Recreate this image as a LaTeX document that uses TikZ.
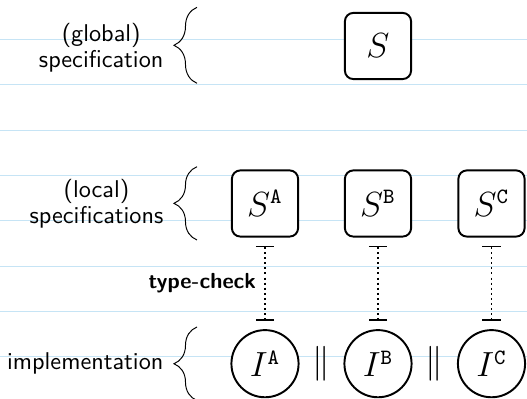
\documentclass[tikz,border=0pt]{standalone}
\usetikzlibrary{arrows.meta,decorations.pathreplacing}
\definecolor{ruleblue}{HTML}{C6E4F5}

\begin{document}
\begin{tikzpicture}[x=0.0145cm, y=0.0145cm, every node/.style={align=center},
  sidetext/.style={anchor=east, font=\sffamily\fontsize{10}{9.1}\selectfont},
  specbox/.style={draw, thick, rectangle, rounded corners=3.5pt, fill=white, minimum width=27.3pt, minimum height=27.3pt, font=\fontsize{13.5}{16}\selectfont},
  implcirc/.style={draw, thick, circle, fill=white, minimum size=27.7pt, inner sep=0pt, font=\fontsize{13.5}{16}\selectfont},
  bracket/.style={decorate, decoration={brace, amplitude=9.5pt}},
  typecheck/.style={{Bar[width=7.5pt]}-{Bar[width=7.5pt]}, thick, dash pattern=on 0.8pt off 1.3pt, shorten <=3.3pt, shorten >=3.3pt}]
\useasboundingbox (0,0) rectangle (527,399);

% Draw the ruled lines
\foreach \y in {0,...,7}
  \draw[ruleblue, line width=0.4pt] (0,359.5-45.3*\y) -- (527,359.5-45.3*\y);

% Draw the specifications
\node[specbox] (S) at (378,353) {$S$};
\node[specbox] (SA) at (265,195.5) {$S^{\mathtt{A}}$};
\node[specbox] (SB) at (378,195.5) {$S^{\mathtt{B}}$};
\node[specbox] (SC) at (491.5,195.5) {$S^{\mathtt{C}}$};

% Draw the implementations
\node[implcirc] (IA) at (265,35.3) {$I^{\mathtt{A}}$};
\node[implcirc] (IB) at (378,35.3) {$I^{\mathtt{B}}$};
\node[implcirc] (IC) at (491.5,35.3) {$I^{\mathtt{C}}$};
\node[font=\fontsize{13.5}{16}\selectfont] (parAB) at (321.5,35.3) {$\parallel$};
\node[font=\fontsize{13.5}{16}\selectfont] (parBC) at (434.5,35.3) {$\parallel$};

% Draw the braces with their labels
\draw[bracket] (197,315.7) -- (197,391.7);
\node[sidetext] (global) at (172,351) {(global)\\specification};
\draw[bracket] (197,159) -- (197,232.3);
\node[sidetext] (local) at (172,195) {(local)\\specifications};
\draw[bracket] (197,-1.5) -- (197,72);
\node[sidetext] (impl) at (172,36) {implementation};

% Draw the type-check links
\draw[typecheck] (SA) -- (IA) node (tc) [midway, left, font=\sffamily\bfseries\small] {type-check};
\draw[typecheck] (SB) -- (IB);
\draw[typecheck] (SC) -- (IC);
\end{tikzpicture}
\end{document}
